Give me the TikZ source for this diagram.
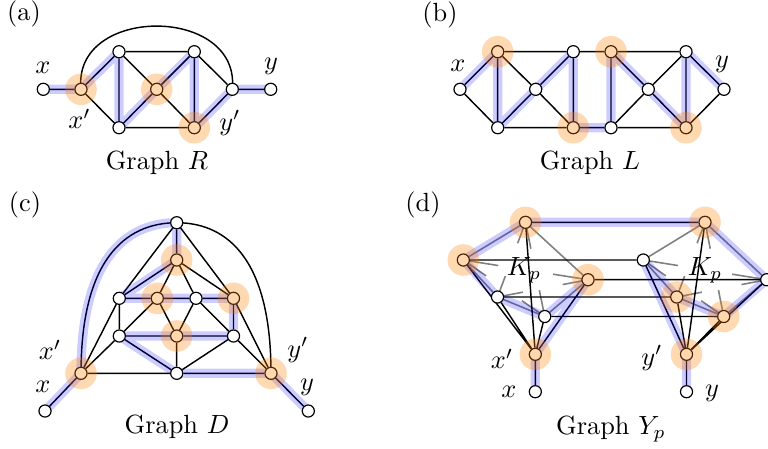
\documentclass[tikz,border=0pt]{standalone}
\usetikzlibrary{calc}
\pgfdeclarelayer{bg}\pgfdeclarelayer{hlayer}\pgfdeclarelayer{fg}
\pgfsetlayers{bg,hlayer,main,fg}
\begin{document}
\begin{tikzpicture}[x=0.38pt,y=-0.38pt,
  vx/.style={circle,draw,fill=white,inner sep=0pt,minimum size=4.6pt,line width=0.45pt},
  ed/.style={line width=0.55pt},
  gr/.style={line width=0.6pt,black!50},
  hl/.style={line width=3.5pt,blue,opacity=0.2,line cap=round,line join=round},
  oh/.style={orange,opacity=0.3},
  lab/.style={inner sep=0pt}]
\useasboundingbox (0,0) rectangle (768,448);

% ---------------- (a) Graph R ----------------
\node[vx] (ax)  at (43.3,89.3) {};
\node[vx] (axp) at (81,89.3) {};
\node[vx] (at1) at (119,51.7) {};
\node[vx] (ab1) at (119,127.7) {};
\node[vx] (am)  at (156.7,89.3) {};
\node[vx] (at2) at (194.3,51.7) {};
\node[vx] (ab2) at (194.3,127.7) {};
\node[vx] (ayp) at (232.3,89.3) {};
\node[vx] (ay)  at (270.7,89.3) {};
\node[lab] (la)  at (24,14) {(a)};
\node[lab] (lax) at (43,68) {$x$};
\node[lab] (laxp) at (79.5,119) {$x'$};
\node[lab] (lay) at (271,66) {$y$};
\node[lab] (layp) at (230,123) {$y'$};
\node[lab] (lar) at (157,163) {Graph $R$};
\begin{pgfonlayer}{bg}
\draw[ed] (ax)--(axp) (axp)--(at1) (axp)--(ab1) (at1)--(ab1) (at1)--(am) (ab1)--(am)
  (at1)--(at2) (ab1)--(ab2) (am)--(at2) (am)--(ab2) (at2)--(ab2) (at2)--(ayp) (ab2)--(ayp) (ayp)--(ay);
\draw[ed] (axp.center) .. controls (72,5) and (241,5) .. (ayp.center);
\end{pgfonlayer}
\begin{pgfonlayer}{hlayer}
\draw[hl] (ax.center)--(axp.center)--(at1.center)--(ab1.center)--(am.center)--(at2.center)--(ab2.center)--(ayp.center)--(ay.center);
\end{pgfonlayer}
\begin{pgfonlayer}{fg}
\foreach \n in {axp,am,ab2} \fill[oh] (\n.center) circle[radius=6pt];
\end{pgfonlayer}

% ---------------- (b) Graph L ----------------
\node[vx] (bx)  at (460,89.3) {};
\node[vx] (bt1) at (497.7,51.7) {};
\node[vx] (bb1) at (497.7,127.7) {};
\node[vx] (bm1) at (535.7,89.3) {};
\node[vx] (bt2) at (573.3,51.7) {};
\node[vx] (bb2) at (573.3,127.7) {};
\node[vx] (bt3) at (611,51.7) {};
\node[vx] (bb3) at (611,127.7) {};
\node[vx] (bm2) at (648.3,89.3) {};
\node[vx] (bt4) at (686,51.7) {};
\node[vx] (bb4) at (686,127.7) {};
\node[vx] (by)  at (724,89.3) {};
\node[lab] (lb)  at (440,15) {(b)};
\node[lab] (lbx) at (458,66) {$x$};
\node[lab] (lby) at (722,64) {$y$};
\node[lab] (lbl) at (590,163) {Graph $L$};
\begin{pgfonlayer}{bg}
\draw[ed] (bx)--(bt1) (bx)--(bb1) (bt1)--(bb1) (bt1)--(bm1) (bb1)--(bm1) (bt1)--(bt2) (bb1)--(bb2)
  (bm1)--(bt2) (bm1)--(bb2) (bt2)--(bb2) (bt2)--(bt3) (bb2)--(bb3) (bt3)--(bb3) (bt3)--(bm2)
  (bb3)--(bm2) (bt3)--(bt4) (bb3)--(bb4) (bm2)--(bt4) (bm2)--(bb4) (bt4)--(bb4) (bt4)--(by) (bb4)--(by);
\end{pgfonlayer}
\begin{pgfonlayer}{hlayer}
\draw[hl] (bx.center)--(bt1.center)--(bb1.center)--(bm1.center)--(bt2.center)--(bb2.center)--(bb3.center)--(bt3.center)--(bm2.center)--(bb4.center)--(bt4.center)--(by.center);
\end{pgfonlayer}
\begin{pgfonlayer}{fg}
\foreach \n in {bt1,bb2,bt3,bb4} \fill[oh] (\n.center) circle[radius=6pt];
\end{pgfonlayer}

% ---------------- (c) Graph D ----------------
\node[vx] (cx)   at (45,411) {};
\node[vx] (cxp)  at (81,373.3) {};
\node[vx] (ctop) at (176.7,222.7) {};
\node[vx] (ca)   at (176.7,260) {};
\node[vx] (cl1)  at (119.3,298.3) {};
\node[vx] (cc1)  at (157.3,298.3) {};
\node[vx] (cc2)  at (196,298.3) {};
\node[vx] (cr1)  at (233.5,298.3) {};
\node[vx] (cl2)  at (119.3,336) {};
\node[vx] (cc3)  at (176.7,336) {};
\node[vx] (cr2)  at (233.5,336) {};
\node[vx] (cbot) at (176.7,373.3) {};
\node[vx] (cyp)  at (271,373.3) {};
\node[vx] (cy)   at (308.3,411) {};
\node[lab] (lc)   at (25,205) {(c)};
\node[lab] (lcxp) at (50,350) {$x'$};
\node[lab] (lcx)  at (43,387) {$x$};
\node[lab] (lcyp) at (298,350) {$y'$};
\node[lab] (lcy)  at (307,387) {$y$};
\node[lab] (lcd)  at (177,427) {Graph $D$};
\begin{pgfonlayer}{bg}
\draw[ed] (cx)--(cxp) (cyp)--(cy) (cxp)--(cbot) (cbot)--(cyp) (cxp)--(cl1) (cxp)--(cl2)
  (ctop)--(ca) (ctop)--(cl1) (ctop)--(cr1) (ca)--(cl1) (ca)--(cc1) (ca)--(cc2) (ca)--(cr1)
  (cl1)--(cc1) (cc1)--(cc2) (cc2)--(cr1) (cl1)--(cl2) (cc1)--(cl2) (cc1)--(cc3) (cc2)--(cc3)
  (cc2)--(cr2) (cr1)--(cr2) (cr1)--(cyp) (cl2)--(cc3) (cc3)--(cr2) (cl2)--(cbot) (cc3)--(cbot)
  (cr2)--(cbot) (cr2)--(cyp);
\draw[ed] (cxp.center) .. controls (81,250) and (133,222.7) .. (ctop.center);
\draw[ed] (ctop.center) .. controls (220,222.7) and (271,250) .. (cyp.center);
\end{pgfonlayer}
\begin{pgfonlayer}{hlayer}
\draw[hl] (cx.center)--(cxp.center) .. controls (81,250) and (133,222.7) .. (ctop.center)
  --(ca.center)--(cl1.center)--(cc1.center)--(cc2.center)--(cr1.center)--(cr2.center)
  --(cc3.center)--(cl2.center)--(cbot.center)--(cyp.center)--(cy.center);
\end{pgfonlayer}
\begin{pgfonlayer}{fg}
\foreach \n in {cxp,ca,cc1,cr1,cc3,cyp} \fill[oh] (\n.center) circle[radius=6pt];
\end{pgfonlayer}

% ---------------- (d) Graph Y_p ----------------
\node[vx] (dlt)  at (525.5,222.3) {};
\node[vx] (dll)  at (463.3,260) {};
\node[vx] (dlr)  at (588,279.7) {};
\node[vx] (dlb1) at (497.5,297) {};
\node[vx] (dlb2) at (544.7,316.5) {};
\node[vx] (dxp)  at (535.3,354.3) {};
\node[vx] (dx)   at (535.3,391.7) {};
\node[vx] (drt)  at (705,222.3) {};
\node[vx] (drl)  at (643.3,260) {};
\node[vx] (drr)  at (766.7,279.7) {};
\node[vx] (drb1) at (676.7,297) {};
\node[vx] (drb2) at (723.7,316.5) {};
\node[vx] (dyp)  at (686.5,354.3) {};
\node[vx] (dy)   at (686.5,391.7) {};
\node[lab] (ld)   at (423,205) {(d)};
\node[lab] (ldk1) at (524,270) {$K_p$};
\node[lab] (ldk2) at (705,270) {$K_p$};
\node[lab] (ldxp) at (502,359) {$x'$};
\node[lab] (ldx)  at (509,392) {$x$};
\node[lab] (ldyp) at (652,358) {$y'$};
\node[lab] (ldy)  at (712,393) {$y$};
\node[lab] (ldg)  at (611,429) {Graph $Y_p$};
\begin{pgfonlayer}{bg}
\draw[gr] (dlt)--(dll) (dlt)--(dlr) (dll)--(dlb1) (dlb1)--(dlb2) (dlb2)--(dlr)
  (drt)--(drl) (drt)--(drr) (drl)--(drb1) (drb1)--(drb2) (drb2)--(drr);
\foreach \a/\b in {dlt/dlb1,dlb1/dlt,dlt/dlb2,dlb2/dlt,dll/dlr,dlr/dll,dll/dlb2,dlb2/dll,dlr/dlb1,dlb1/dlr,
  drt/drb1,drb1/drt,drt/drb2,drb2/drt,drl/drr,drr/drl,drl/drb2,drb2/drl,drr/drb1,drb1/drr}
  \draw[gr] (\a.center) -- ($(\a.center)!0.28!(\b.center)$);
\draw[ed] (dx)--(dxp) (dxp)--(dlt) (dxp)--(dll) (dxp)--(dlr) (dxp)--(dlb1) (dxp)--(dlb2)
  (dy)--(dyp) (dyp)--(drt) (dyp)--(drl) (dyp)--(drr) (dyp)--(drb1) (dyp)--(drb2)
  (dlt)--(drt) (dll)--(drl) (dlr)--(drr) (dlb1)--(drb1) (dlb2)--(drb2);
\end{pgfonlayer}
\begin{pgfonlayer}{hlayer}
\draw[hl] (dx.center)--(dxp.center)--(dlr.center)--(dlb2.center)--(dlb1.center)--(dll.center)--(dlt.center)
  --(drt.center)--(drr.center)--(drb2.center)--(drb1.center)--(drl.center)--(dyp.center)--(dy.center);
\end{pgfonlayer}
\begin{pgfonlayer}{fg}
\foreach \n in {dlt,dll,dlr,dxp,drt,drb1,drb2,dyp} \fill[oh] (\n.center) circle[radius=6pt];
\end{pgfonlayer}
\end{tikzpicture}
\end{document}
